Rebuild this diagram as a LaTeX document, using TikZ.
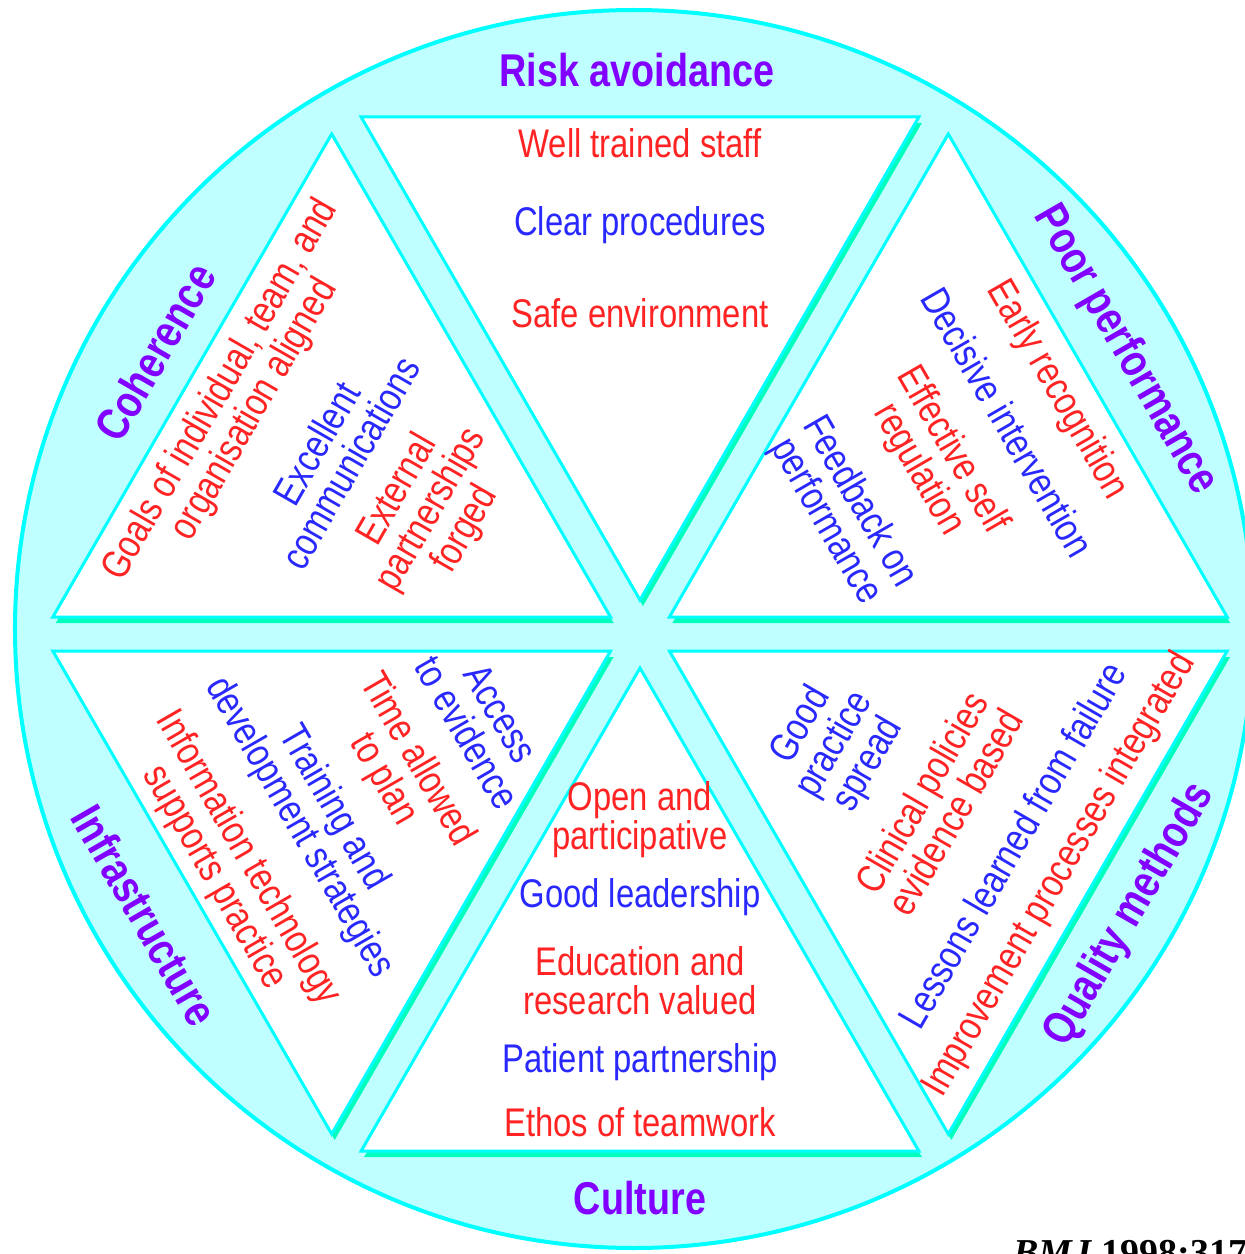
\documentclass[tikz,border=0pt]{standalone}
\usepackage{fontspec}
\setmainfont{Liberation Sans}[FakeStretch=0.82]
\newfontfamily\bmjfont{Liberation Serif}
\definecolor{itemred}{RGB}{255,35,35}
\definecolor{itemblue}{RGB}{40,40,255}
\definecolor{titlepurple}{RGB}{130,0,255}
\definecolor{rim}{RGB}{0,255,255}
\definecolor{ringfill}{RGB}{192,255,255}
\definecolor{shadegreen}{RGB}{0,255,190}
\tikzset{
  facet/.style={fill=white,draw=rim,line width=3pt,line join=miter},
  item/.style={align=center,inner sep=0pt,font=\fontsize{40}{39}\selectfont},
  redtext/.style={item,text=itemred},
  bluetext/.style={item,text=itemblue},
  title/.style={inner sep=0pt,text=titlepurple,font=\bfseries\fontsize{46}{46}\selectfont}
}
\begin{document}
\begin{tikzpicture}[x=1pt,y=1pt,line join=round]
  \def\rc{356} \def\rt{322}
  \useasboundingbox (-640,634) rectangle (605,-620);
  \fill[white] (-640,634) rectangle (605,-620);
  \begin{scope}
    \clip (-640,634) rectangle (605,-620);
    \draw[rim,fill=ringfill,line width=4pt] (-6,5) circle (619);
    \foreach \a in {90,30,-30,-90,-150,150}{
      \fill[shadegreen,shift={(3,-6)},shift={(\a:\rc)},rotate=\a]
        (180:\rt) -- (60:\rt) -- (-60:\rt) -- cycle;
      \filldraw[facet,shift={(\a:\rc)},rotate=\a]
        (180:\rt) -- (60:\rt) -- (-60:\rt) -- cycle;
    }

    \node[title] (risk) at (-3,564) {Risk avoidance};
    \node[redtext] (staff) at (0,491) {Well trained staff};
    \node[bluetext] (proc) at (0,409) {Clear procedures};
    \node[redtext] (safe) at (0,321) {Safe environment};

    \node[title,rotate=60] (coher) at (-485,282) {Coherence};
    \node[redtext,rotate=60] (goals) at (-402,234) {Goals of individual, team, and\\organisation aligned};
    \node[bluetext,rotate=60] (comm) at (-307,181) {Excellent\\communications};
    \node[redtext,rotate=60] (partner) at (-208,124) {External\\partnerships\\forged};

    \node[title,rotate=-60] (poor) at (485,284) {Poor performance};
    \node[redtext,rotate=-60] (early) at (417,244) {Early recognition};
    \node[bluetext,rotate=-60] (decis) at (368,212) {Decisive intervention};
    \node[redtext,rotate=-60] (selfreg) at (295,174) {Effective self\\regulation};
    \node[bluetext,rotate=-60] (feedb) at (202,122) {Feedback on\\performance};

    \node[bluetext,rotate=-60] (access) at (-156,-89) {Access\\to evidence};
    \node[redtext,rotate=-60] (timeplan) at (-240,-136) {Time allowed\\to plan};
    \node[bluetext,rotate=-60] (train) at (-324,-184) {Training and\\development strategies};
    \node[redtext,rotate=-60] (infotech) at (-409,-234) {Information technology\\supports practice};
    \node[title,rotate=-60] (infra) at (-495,-281) {Infrastructure};

    \node[redtext] (open) at (0,-186) {Open and\\participative};
    \node[bluetext] (lead) at (0,-263) {Good leadership};
    \node[redtext] (edu) at (0,-347) {Education and\\research valued};
    \node[bluetext] (patient) at (0,-428) {Patient partnership};
    \node[redtext] (ethos) at (0,-488) {Ethos of teamwork};
    \node[title] (culture) at (0,-564) {Culture};

    \node[bluetext,rotate=60] (spread) at (195,-111) {Good\\practice\\spread};
    \node[redtext,rotate=60] (clin) at (298,-168) {Clinical policies\\evidence based};
    \node[bluetext,rotate=60] (lessons) at (372,-211) {Lessons learned from failure};
    \node[redtext,rotate=60] (improve) at (420,-241) {Improvement processes integrated};
    \node[title,rotate=60] (quality) at (490,-281) {Quality methods};

    \node[anchor=base west,inner sep=0pt,font=\bmjfont\bfseries\fontsize{38}{38}\selectfont]
      (cite) at (373,-631) {\textit{BMJ} 1998;317:};
  \end{scope}
\end{tikzpicture}
\end{document}
